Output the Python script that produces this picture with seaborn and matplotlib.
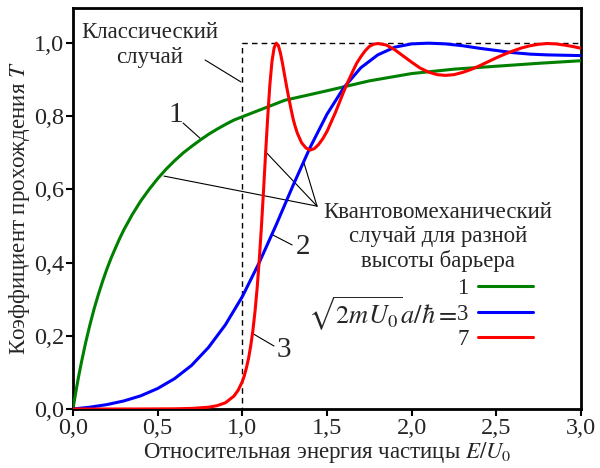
import numpy as np
import pandas as pd
import seaborn as sns
import matplotlib.pyplot as plt
import matplotlib.ticker as mticker
from matplotlib.lines import Line2D

# значения
e_green = [0, 0.005, 0.01, 0.02, 0.03, 0.04, 0.05, 0.075, 0.1, 0.125, 0.15, 0.175, 0.2, 0.225, 0.25, 0.275,
           0.3, 0.35, 0.4, 0.45, 0.5, 0.55, 0.6, 0.65, 0.7, 0.75, 0.8, 0.85, 0.9, 0.95, 1.0,
           1.25, 1.5, 1.75, 2.0, 2.25, 2.5, 2.75, 3.0]
t_green = [0, 0.014, 0.028, 0.055, 0.081, 0.105, 0.128, 0.182, 0.230, 0.274, 0.313, 0.349, 0.382, 0.412, 0.439, 0.465,
           0.489, 0.531, 0.568, 0.600, 0.629, 0.655, 0.678, 0.699, 0.717, 0.734, 0.750, 0.764, 0.777, 0.789, 0.798,
           0.843, 0.869, 0.896, 0.916, 0.928, 0.936, 0.944, 0.951]

e_blue = [0, 0.1, 0.2, 0.3, 0.4, 0.5, 0.6, 0.7, 0.8, 0.9, 1.0, 1.1, 1.2, 1.3, 1.4, 1.5,
          1.6, 1.7, 1.8, 1.9, 2.0, 2.1, 2.2, 2.3, 2.4, 2.5, 2.6, 2.7, 2.8, 2.9, 3.0]
t_blue = [0, 0.005, 0.012, 0.022, 0.036, 0.056, 0.083, 0.119, 0.168, 0.230, 0.307, 0.400, 0.503, 0.611, 0.714, 0.805,
          0.878, 0.932, 0.967, 0.988, 0.997, 0.999, 0.997, 0.992, 0.985, 0.979, 0.973, 0.969, 0.967, 0.966, 0.965]

e_red = [0, 0.2, 0.4, 0.6, 0.7, 0.8, 0.85, 0.9, 0.95, 0.975, 1.0, 1.0125, 1.025, 1.0375, 1.05, 1.0625,
         1.075, 1.0875, 1.1, 1.1125, 1.125, 1.1375, 1.15, 1.1625, 1.175, 1.1875, 1.2, 1.2125, 1.225, 1.2375,
         1.25, 1.2625, 1.275, 1.2875, 1.3, 1.3125, 1.325, 1.35, 1.375, 1.4, 1.425, 1.45, 1.475, 1.5,
         1.525, 1.55, 1.575, 1.6, 1.625, 1.65, 1.675, 1.7, 1.725, 1.75, 1.775, 1.8, 1.85, 1.9, 1.95,
         2.0, 2.05, 2.1, 2.15, 2.2, 2.25, 2.3, 2.35, 2.4, 2.45, 2.5, 2.55, 2.6, 2.65, 2.7, 2.75,
         2.8, 2.85, 2.9, 2.95, 3.0]
t_red = [0, 0.0, 0.0001, 0.0005, 0.0016, 0.0049, 0.009, 0.017, 0.035, 0.051, 0.075, 0.092, 0.114, 0.140, 0.174, 0.215,
         0.267, 0.330, 0.407, 0.496, 0.595, 0.699, 0.798, 0.885, 0.949, 0.986, 0.999, 0.993, 0.972, 0.943,
         0.910, 0.878, 0.848, 0.819, 0.792, 0.771, 0.753, 0.727, 0.713, 0.707, 0.711, 0.722, 0.738, 0.758,
         0.784, 0.810, 0.839, 0.868, 0.895, 0.920, 0.944, 0.962, 0.978, 0.990, 0.996, 0.998, 0.994, 0.981, 0.964,
         0.947, 0.931, 0.920, 0.913, 0.911, 0.913, 0.919, 0.927, 0.937, 0.948, 0.959, 0.969, 0.978, 0.986, 0.992, 0.996,
         0.998, 0.997, 0.994, 0.990, 0.985]

e_classic = [0, 1, 1, 3]
t_classic = [0, 0, 1, 1]

sns.set_style('ticks')
plt.rcParams['font.family'] = ['Liberation Serif', 'DejaVu Serif']
plt.rcParams['mathtext.fontset'] = 'stix'

fig = plt.figure(figsize=(6, 4.68), dpi=100)
ax = fig.add_axes([73/600, 59/468, 508/600, 401/468])

ax.plot(e_classic, t_classic, color='black', lw=1.0, ls=(0, (4, 3)), zorder=1)
sns.lineplot(x=e_green, y=t_green, color='#008000', lw=2.2, ax=ax, zorder=3)
sns.lineplot(x=e_blue, y=t_blue, color='#0000ff', lw=2.2, ax=ax, zorder=4)
sns.lineplot(x=e_red, y=t_red, color='#ff0000', lw=2.2, ax=ax, zorder=5)

ax.set_xlim(0, 3.0)
ax.set_ylim(0, 1.095)
ax.set_xticks([0, 0.5, 1.0, 1.5, 2.0, 2.5, 3.0])
ax.set_yticks([0, 0.2, 0.4, 0.6, 0.8, 1.0])
fmt = mticker.FuncFormatter(lambda v, p: f'{v:.1f}'.replace('.', ','))
ax.xaxis.set_major_formatter(fmt)
ax.yaxis.set_major_formatter(fmt)
ax.tick_params(labelsize=17.5, width=1.5, length=5, color='black', pad=1.5)
for s in ax.spines.values():
    s.set_linewidth(2)
    s.set_color('black')

ax.set_xlabel('Относительная энергия частицы $E/U_0$', fontsize=16.5, labelpad=1)
ax.set_ylabel('Коэффициент прохождения $T$', fontsize=16.5, labelpad=1)

# подписи
lw_thin = 0.8
ax.text(0.455, 0.994, 'Классический\nслучай', fontsize=16.5, ha='center', va='center', linespacing=1.2)
ax.plot([0.78, 0.992], [0.953, 0.893], color='black', lw=lw_thin)

ax.text(0.608, 0.803, '1', fontsize=21, ha='center', va='center')
ax.plot([0.65, 0.756], [0.781, 0.737], color='black', lw=lw_thin)
ax.text(1.358, 0.442, '2', fontsize=21, ha='center', va='center')
ax.plot([1.181, 1.294], [0.475, 0.448], color='black', lw=lw_thin)
ax.text(1.246, 0.161, '3', fontsize=21, ha='center', va='center')
ax.plot([1.065, 1.187], [0.205, 0.172], color='black', lw=lw_thin)

apex = (1.441, 0.554)
for px, py in [(0.5375, 0.636), (1.134, 0.704), (1.364, 0.672)]:
    ax.plot([px, apex[0]], [py, apex[1]], color='black', lw=lw_thin)
ax.text(2.156, 0.470, 'Квантовомеханический\nслучай для разной\nвысоты барьера',
        fontsize=16.5, ha='center', va='center', linespacing=1.2)

ax.text(2.268, 0.259, r'$\sqrt{2mU_0}a/\hbar=$', fontsize=19, ha='right', va='center')
handles = [Line2D([], [], color=c, lw=2.2) for c in ['#008000', '#0000ff', '#ff0000']]
ax.legend(handles, ['1', '3', '7'], loc='center', bbox_to_anchor=(495/600, 1-314/468),
          bbox_transform=fig.transFigure, frameon=False, markerfirst=False, fontsize=16.5,
          borderpad=0, labelspacing=0.2, handlelength=2.4, handletextpad=0.4)

fig.savefig('out.png', dpi=100)
